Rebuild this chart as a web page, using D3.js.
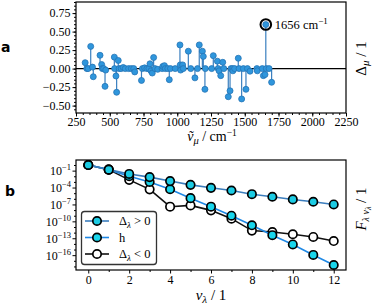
<!DOCTYPE html>
<html><head><meta charset="utf-8">
<script src="https://cdn.jsdelivr.net/npm/d3@7"></script>
<style>
body{margin:0;background:#fff}
svg text{font-family:"Liberation Serif","DejaVu Serif",serif;fill:#000}
</style>
</head><body>
<svg id="c" width="373" height="306"></svg>
<script>
// ---------- data: panel a ----------
const modeWavenumbers = [318,330,340,359,372,378,428,440,445,455,465,470,534,536,546,551,563,570,585,600,615,640,660,678,685,735,742,758,775,790,798,805,815,825,835,855,888,893,905,912,930,941,950,985,1020,1022,1025,1040,1045,1082,1100,1131,1150,1163,1186,1193,1205,1208,1255,1267,1297,1303,1310,1322,1337,1345,1378,1391,1398,1410,1412,1425,1452,1458,1477,1490,1509,1520,1539,1590,1593,1630,1638,1650,1656,1660,1680,1699];
const modeDeltas = [0.08,0.0,0.0,0.30,0.02,-0.11,0.18,0.055,0.0,0.0,-0.24,-0.02,0.155,0.0,-0.10,-0.32,0.11,0.0,0.0,0.015,0.0,0.0,0.0,0.0,-0.045,-0.16,0.0,0.01,0.0,0.0,0.065,-0.03,-0.06,0.15,0.0,-0.01,0.0,0.03,0.04,0.0,0.0,-0.15,0.0,0.0,0.32,0.05,-0.02,0.05,0.0,0.235,0.0,-0.125,0.0,0.32,0.235,0.165,-0.28,0.0,0.0,0.175,0.10,0.0,-0.03,-0.095,0.085,0.0,-0.38,-0.30,0.0,0.0,-0.03,0.0,0.14,0.0,-0.41,0.0,-0.28,0.0,-0.035,0.0,-0.03,0.0,-0.095,-0.08,0.595,0.0,0.0,-0.185];
const highlightWavenumber = 1656;
const xTicksA = [250,500,750,1000,1250,1500,1750,2000,2250];
const yTicksA = [-0.5,-0.25,0,0.25,0.5,0.75];
const xDomainA = [250,2250];
const yDomainA = [-0.6,0.9];

// ---------- data: panel b ----------
const quanta = [0,1,2,3,4,5,6,7,8,9,10,11,12];
const fPositive = [1,1.5e-1,2.6e-2,7.1e-3,1.4e-3,3.0e-4,8.9e-5,3.0e-5,6.6e-6,2.3e-6,7.8e-7,3.0e-7,1.0e-7];
const fHarmonic = [1,1.5e-1,1.0e-2,1.0e-3,5.0e-5,1.3e-6,4.0e-8,1.0e-9,2.0e-11,3.5e-13,7.9e-15,1.1e-16,1.8e-18];
const fNegative = [1,1.5e-1,2.3e-3,4.8e-5,4.0e-8,6.8e-8,8.9e-9,3.0e-10,2.3e-12,1.3e-12,5.1e-13,1.7e-13,3.2e-14];
const xTicksB = [0,2,4,6,8,10,12];
const yExpTicksB = [-1,-4,-7,-10,-13,-16];

const SERIF = '"Liberation Serif","DejaVu Serif",serif';
const svg = d3.select("#c");
const MINUS = "\u2212";
const fmtA = d => (d<0?MINUS:"") + Math.abs(d).toFixed(2);
const styleTicks = g => { g.select(".domain").remove(); g.selectAll("text").attr("font-size",12).style("font-family",SERIF).attr("fill","#000"); };

// ================= Panel a =================
const A = {l:76, r:346, t:2, b:113};
const xa = d3.scaleLinear().domain(xDomainA).range([A.l, A.r]);
const ya = d3.scaleLinear().domain(yDomainA).range([A.b, A.t]);

const ga = svg.append("g");
ga.append("g").attr("transform",`translate(0,${A.b})`)
  .call(d3.axisBottom(xa).tickValues(d3.range(250,2251,50)).tickSize(2).tickFormat(""))
  .call(g=>g.select(".domain").remove());
ga.append("g").attr("transform",`translate(${A.l},0)`)
  .call(d3.axisLeft(ya).tickValues(d3.range(-0.55,0.9,0.05)).tickSize(2).tickFormat(""))
  .call(g=>g.select(".domain").remove());
ga.append("g").attr("transform",`translate(0,${A.b})`)
  .call(d3.axisBottom(xa).tickValues(xTicksA).tickSize(3.5).tickPadding(1).tickFormat(d3.format("d")))
  .call(styleTicks);
ga.append("g").attr("transform",`translate(${A.l},0)`)
  .call(d3.axisLeft(ya).tickValues(yTicksA).tickSize(3.5).tickPadding(2).tickFormat(fmtA))
  .call(styleTicks);

const stemColor = "#3a7fbf";
const dotFill = "#2f96dc";
const dotStroke = "#2474b5";
const dataA = modeWavenumbers.map((w,i)=>({w, v:modeDeltas[i]}));
ga.append("g").selectAll("line").data(dataA).join("line")
  .attr("x1",d=>xa(d.w)).attr("x2",d=>xa(d.w))
  .attr("y1",ya(0)).attr("y2",d=>ya(d.v))
  .attr("stroke",stemColor).attr("stroke-width",1.2);
ga.append("line").attr("x1",A.l).attr("x2",A.r).attr("y1",ya(0)).attr("y2",ya(0))
  .attr("stroke","#000").attr("stroke-width",1.3);
ga.append("g").selectAll("circle").data(dataA).join("circle")
  .attr("cx",d=>xa(d.w)).attr("cy",d=>ya(d.v)).attr("r",3)
  .attr("fill",dotFill).attr("stroke",dotStroke).attr("stroke-width",0.8);
const hl = dataA.find(d=>d.w===highlightWavenumber);
ga.append("circle").attr("cx",xa(hl.w)).attr("cy",ya(hl.v)).attr("r",5.3)
  .attr("fill","none").attr("stroke","#000").attr("stroke-width",2);
const hlt = ga.append("text").attr("x",xa(hl.w)+9).attr("y",ya(hl.v)+4.5).attr("font-size",12.5);
hlt.append("tspan").text(hl.w+" cm");
hlt.append("tspan").attr("dy",-5).attr("font-size",9).text(MINUS+"1");
ga.append("rect").attr("x",A.l).attr("y",A.t).attr("width",A.r-A.l).attr("height",A.b-A.t)
  .attr("fill","none").attr("stroke","#000").attr("stroke-width",1.2);
const xla = ga.append("text").attr("x",(A.l+A.r)/2+1).attr("y",141).attr("text-anchor","middle").attr("font-size",14);
xla.append("tspan").attr("font-style","italic").text("\u1E7D");
xla.append("tspan").attr("font-style","italic").attr("font-size",10.5).attr("dy",3).text("\u03BC");
xla.append("tspan").attr("dy",-3).text(" / cm");
xla.append("tspan").attr("font-size",9.5).attr("dy",-5).text(MINUS+"1");
const yla = ga.append("text").attr("transform",`translate(366,${(A.t+A.b)/2+1}) rotate(-90)`)
  .attr("text-anchor","middle").attr("font-size",15);
yla.append("tspan").text("\u0394");
yla.append("tspan").attr("font-style","italic").attr("font-size",11).attr("dy",3).text("\u03BC");
yla.append("tspan").attr("dy",-3).text(" / 1");
svg.append("text").attr("x",1).attr("y",52).attr("font-size",14).attr("font-weight","bold")
  .style("font-family","'DejaVu Sans',sans-serif").text("a");

// ================= Panel b =================
const B = {l:76, r:346, t:160, b:270};
const xPad = (d3.max(quanta)-d3.min(quanta))*0.05;
const xb = d3.scaleLinear().domain([d3.min(quanta)-xPad, d3.max(quanta)+xPad]).range([B.l, B.r]);
const allF = fPositive.concat(fHarmonic, fNegative);
const lmin = Math.log10(d3.min(allF)), lmax = Math.log10(d3.max(allF));
const lpad = (lmax-lmin)*0.05;
const yb = d3.scaleLog().domain([Math.pow(10,lmin-lpad), Math.pow(10,lmax+lpad)]).range([B.b, B.t]);

const gb = svg.append("g");
gb.append("g").attr("transform",`translate(0,${B.b})`)
  .call(d3.axisBottom(xb).tickValues(quanta.filter(q=>q%2)).tickSize(2).tickFormat(""))
  .call(g=>g.select(".domain").remove());
gb.append("g").attr("transform",`translate(0,${B.b})`)
  .call(d3.axisBottom(xb).tickValues(xTicksB).tickSize(3.5).tickPadding(2).tickFormat(d3.format("d")))
  .call(styleTicks);
const minorExp = d3.range(0,-19,-1).filter(e=>!yExpTicksB.includes(e));
gb.append("g").attr("transform",`translate(${B.l},0)`)
  .call(d3.axisLeft(yb).tickValues(minorExp.map(e=>Math.pow(10,e))).tickSize(2).tickFormat(""))
  .call(g=>g.select(".domain").remove());
const yAxB = gb.append("g").attr("transform",`translate(${B.l},0)`)
  .call(d3.axisLeft(yb).tickValues(yExpTicksB.map(e=>Math.pow(10,e))).tickSize(3.5).tickPadding(2).tickFormat(""))
  .call(g=>g.select(".domain").remove());
yAxB.selectAll(".tick").each(function(d){
  const t = d3.select(this).append("text").attr("x",-5).attr("dy","0.32em")
    .attr("text-anchor","end").attr("font-size",12).attr("fill","#000").style("font-family",SERIF);
  t.append("tspan").text("10");
  t.append("tspan").attr("dy",-5).attr("font-size",8.5).text(MINUS+Math.round(-Math.log10(d)));
});

const line = d3.line().x((d,i)=>xb(quanta[i])).y(d=>yb(d));
const series = [
  {name:"neg", vals:fNegative, line:"#111", fill:"#ffffff"},
  {name:"h", vals:fHarmonic, line:"#1e88e5", fill:"#19d6ec"},
  {name:"pos", vals:fPositive, line:"#3b7dbd", fill:"#1ccbe3"}
];
series.forEach(s=>{
  const g = gb.append("g");
  g.append("path").attr("d",line(s.vals)).attr("fill","none").attr("stroke",s.line).attr("stroke-width",1.6);
  g.selectAll("circle").data(s.vals).join("circle")
    .attr("cx",(d,i)=>xb(quanta[i])).attr("cy",d=>yb(d)).attr("r",4.2)
    .attr("fill",s.fill).attr("stroke","#000").attr("stroke-width",1.7);
});
gb.append("rect").attr("x",B.l).attr("y",B.t).attr("width",B.r-B.l).attr("height",B.b-B.t)
  .attr("fill","none").attr("stroke","#000").attr("stroke-width",1.2);

const lg = gb.append("g");
lg.append("rect").attr("x",81.5).attr("y",211.5).attr("width",75).attr("height",53).attr("rx",3)
  .attr("fill","#fff").attr("stroke","#333").attr("stroke-width",1.3);
const legendRows = [
  {s:series[2], label:["\u0394","\u03BB"," > 0"], y:221},
  {s:series[1], label:["h"], y:237.5},
  {s:series[0], label:["\u0394","\u03BB"," < 0"], y:254}
];
legendRows.forEach(r=>{
  lg.append("line").attr("x1",85).attr("x2",109).attr("y1",r.y).attr("y2",r.y)
    .attr("stroke",r.s.line).attr("stroke-width",1.6);
  lg.append("circle").attr("cx",97).attr("cy",r.y).attr("r",4.2)
    .attr("fill",r.s.fill).attr("stroke","#000").attr("stroke-width",1.7);
  const t = lg.append("text").attr("x",119).attr("y",r.y+4).attr("font-size",12.5);
  if(r.label.length===1){ t.text(r.label[0]); }
  else {
    t.append("tspan").text(r.label[0]);
    t.append("tspan").attr("font-style","italic").attr("font-size",9).attr("dy",3).text(r.label[1]);
    t.append("tspan").attr("dy",-3).text(r.label[2]);
  }
});

const xlb = gb.append("text").attr("x",(B.l+B.r)/2).attr("y",300).attr("text-anchor","middle").attr("font-size",15);
xlb.append("tspan").attr("font-style","italic").text("v");
xlb.append("tspan").attr("font-style","italic").attr("font-size",11).attr("dy",3).text("\u03BB");
xlb.append("tspan").attr("dy",-3).text(" / 1");
const ylb = gb.append("text").attr("transform",`translate(366,${(B.t+B.b)/2-6}) rotate(-90)`)
  .attr("text-anchor","middle").attr("font-size",15);
ylb.append("tspan").attr("font-style","italic").text("F");
ylb.append("tspan").attr("font-style","italic").attr("font-size",10).attr("dy",3).text("\u03BB v");
ylb.append("tspan").attr("font-style","italic").attr("font-size",8).attr("dy",2).text("\u03BB");
ylb.append("tspan").attr("dy",-5).text(" / 1");
svg.append("text").attr("x",5).attr("y",196).attr("font-size",14).attr("font-weight","bold")
  .style("font-family","'DejaVu Sans',sans-serif").text("b");
</script>
</body></html>
